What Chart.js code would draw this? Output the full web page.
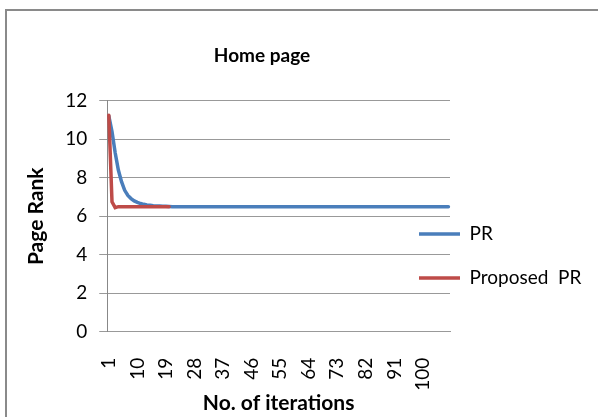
<!DOCTYPE html>
<html>
<head>
<meta charset="utf-8">
<script src="https://cdn.jsdelivr.net/npm/chart.js@4.4.1/dist/chart.umd.min.js"></script>
<style>
  html, body { margin: 0; padding: 0; background: #fff; overflow: hidden; }
  #wrap { position: absolute; left: 0; top: 0; width: 598px; height: 417px; }
  #frame { position: absolute; left: 5px; top: 9px; width: 700px; height: 500px; border: 2px solid #8a8a8a; box-sizing: border-box; }
  canvas { position: absolute; left: 0; top: 0; }
</style>
</head>
<body>
<div id="wrap">
  <div id="frame"></div>
  <canvas id="chart" width="598" height="417"></canvas>
</div>
<script>
// iterations 1..108 on the category axis, label shown every 9th
const iterations = Array.from({ length: 108 }, (_, i) => String(i + 1));
const LABEL_STEP = 9;

const prValues = [
  11.2, 10.4, 9.3, 8.4, 7.8, 7.35, 7.08, 6.92, 6.8, 6.72,
  6.66, 6.62, 6.59, 6.57, 6.55, 6.54, 6.53, 6.52, 6.52, 6.51,
  6.5, 6.5, 6.5, 6.5, 6.5, 6.5, 6.5, 6.5, 6.5, 6.5,
  6.5, 6.5, 6.5, 6.5, 6.5, 6.5, 6.5, 6.5, 6.5, 6.5,
  6.5, 6.5, 6.5, 6.5, 6.5, 6.5, 6.5, 6.5, 6.5, 6.5,
  6.5, 6.5, 6.5, 6.5, 6.5, 6.5, 6.5, 6.5, 6.5, 6.5,
  6.5, 6.5, 6.5, 6.5, 6.5, 6.5, 6.5, 6.5, 6.5, 6.5,
  6.5, 6.5, 6.5, 6.5, 6.5, 6.5, 6.5, 6.5, 6.5, 6.5,
  6.5, 6.5, 6.5, 6.5, 6.5, 6.5, 6.5, 6.5, 6.5, 6.5,
  6.5, 6.5, 6.5, 6.5, 6.5, 6.5, 6.5, 6.5, 6.5, 6.5,
  6.5, 6.5, 6.5, 6.5, 6.5, 6.5, 6.5, 6.5
];

const proposedValues = [
  11.25, 6.75, 6.45, 6.5, 6.5, 6.5, 6.5, 6.5, 6.5, 6.5,
  6.5, 6.5, 6.5, 6.5, 6.5, 6.5, 6.5, 6.5, 6.5, 6.5
];

const yTicks = [0, 2, 4, 6, 8, 10, 12];

const FONT = 'Lato, "Open Sans", sans-serif';
const LEGEND_FONT_SIZE = 19;
const LEGEND_PAD = 25;
const LEGEND_X = 419;   // left end of the first legend line
const LEGEND_Y = 234;   // centre of the first legend item

// Excel puts the legend partly over the plot, so move the box after layout
const legendPlace = {
  id: 'legendPlace',
  afterLayout(chart) {
    const lg = chart.legend;
    if (!lg) return;
    lg.left = LEGEND_X - LEGEND_PAD;
    lg.width = 200;
    lg.right = lg.left + lg.width;
    const colH = lg.columnSizes && lg.columnSizes[0] ? lg.columnSizes[0].height : 0;
    const curY = (lg.top + LEGEND_PAD + lg.bottom - colH) / 2;
    const dy = LEGEND_Y - LEGEND_FONT_SIZE / 2 - curY;
    lg.top += dy; lg.bottom += dy;
  }
};

new Chart(document.getElementById('chart'), {
  type: 'line',
  data: {
    labels: iterations,
    datasets: [
      { label: 'PR', data: prValues, borderColor: '#4A7EBB', backgroundColor: '#4A7EBB',
        borderWidth: 3.5, borderCapStyle: 'round', pointRadius: 0, tension: 0, order: 1 },
      { label: 'Proposed  PR', data: proposedValues, borderColor: '#BE4B48', backgroundColor: '#BE4B48',
        borderWidth: 3.5, borderCapStyle: 'round', pointRadius: 0, tension: 0, order: 0 }
    ]
  },
  options: {
    responsive: false,
    animation: false,
    devicePixelRatio: 1,
    layout: { padding: { left: 0, right: 74, top: 0, bottom: 0 } },
    plugins: {
      title: {
        display: true, text: 'Home page', color: '#000',
        font: { family: FONT, size: 19, weight: 'bold' },
        padding: { top: 44, bottom: 34 }
      },
      legend: {
        position: 'right',
        maxWidth: 74,
        labels: {
          color: '#000',
          font: { family: FONT, size: LEGEND_FONT_SIZE },
          boxWidth: 41, boxHeight: 0,
          padding: LEGEND_PAD,
          sort: (a, b) => a.datasetIndex - b.datasetIndex
        }
      },
      tooltip: { enabled: false }
    },
    scales: {
      x: {
        offset: true,
        grid: { display: false, drawTicks: false },
        border: { display: true, color: '#999', width: 1 },
        ticks: {
          autoSkip: false, minRotation: 90, maxRotation: 90, padding: 26,
          color: '#000', font: { family: FONT, size: 19 },
          callback(val, i) { return i % LABEL_STEP === 0 ? this.getLabelForValue(val) : ''; }
        },
        title: {
          display: true, text: 'No. of iterations', color: '#000',
          font: { family: FONT, size: 21, weight: 'bold' },
          // tick padding is counted on both sides of the labels, take it back here
          padding: { top: -26, bottom: 1 }
        }
      },
      y: {
        min: 0, max: 12,
        afterBuildTicks(scale) { scale.ticks = yTicks.map(v => ({ value: v })); },
        grid: { color: '#999', lineWidth: 1, tickLength: 8, drawTicks: true },
        border: { display: true, color: '#888', width: 1 },
        ticks: { padding: 12, color: '#000', font: { family: FONT, size: 19 } },
        title: {
          display: true, text: 'Page Rank', color: '#000',
          font: { family: FONT, size: 21, weight: 'bold' },
          padding: { top: 24, bottom: 4 }
        }
      }
    }
  },
  plugins: [legendPlace]
});
</script>
</body>
</html>
